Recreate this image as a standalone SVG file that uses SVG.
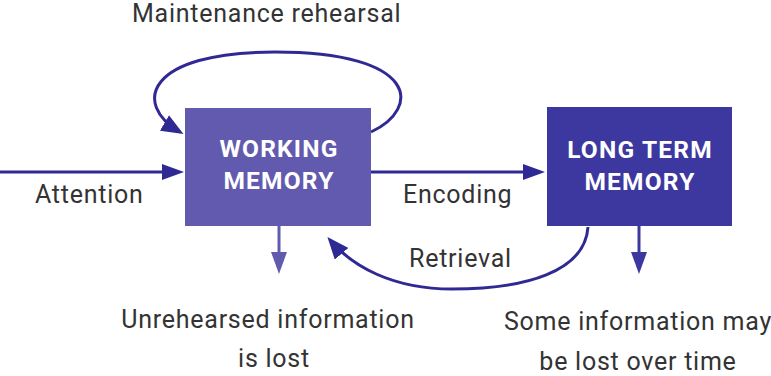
<svg xmlns="http://www.w3.org/2000/svg" width="771" height="376" viewBox="0 0 771 376">
<style>
.lbl{font-family:Roboto,"Liberation Sans",sans-serif;font-size:25px;letter-spacing:0.75px;fill:#333}
.box{font-family:Roboto,"Liberation Sans",sans-serif;font-size:24.5px;font-weight:bold;letter-spacing:1.2px;fill:#fff;text-anchor:middle}
.ln{fill:none;stroke:#2f2a93;stroke-width:3}
</style>
<defs>
<marker id="ah" viewBox="0 0 22 16" refX="2" refY="8" markerWidth="22" markerHeight="16" markerUnits="userSpaceOnUse" orient="auto"><path d="M0,0 L22,8 L0,16 z" fill="#2f2a93"/></marker>
<marker id="ahc" viewBox="0 0 22 18" refX="18" refY="9" markerWidth="22" markerHeight="18" markerUnits="userSpaceOnUse" orient="auto"><path d="M0,0 L22,9 L0,18 z" fill="#2f2a93"/></marker>
<marker id="ahl" viewBox="0 0 22 16" refX="2" refY="8" markerWidth="22" markerHeight="16" markerUnits="userSpaceOnUse" orient="auto"><path d="M0,0 L22,8 L0,16 z" fill="#625aae"/></marker>
<marker id="ahd" viewBox="0 0 22 16" refX="2" refY="8" markerWidth="22" markerHeight="16" markerUnits="userSpaceOnUse" orient="auto"><path d="M0,0 L22,8 L0,16 z" fill="#3c38a0"/></marker>
</defs>
<g id="connectors">
<path class="ln" d="M0,172 L164,172" marker-end="url(#ah)"/>
<path class="ln" d="M371,172 L525,172" marker-end="url(#ah)"/>
<path class="ln" d="M371,132 C422,108 418,52 275,52 C146,52 132,104 180,132" marker-end="url(#ahc)"/>
<path class="ln" d="M588,227 C585,272 525,289 452,289 C392,289 352,266 330,240" marker-end="url(#ahc)"/>
<path d="M279,226 L279,254" fill="none" stroke="#625aae" stroke-width="3" marker-end="url(#ahl)"/>
<path d="M639,226 L639,254" fill="none" stroke="#3c38a0" stroke-width="3" marker-end="url(#ahd)"/>
</g>
<g id="working-memory">
<rect x="185" y="108" width="186" height="118" fill="#625aae"/>
<text class="box" x="279" y="157">WORKING</text>
<text class="box" x="279" y="189">MEMORY</text>
</g>
<g id="long-term-memory">
<rect x="547" y="107" width="185" height="119" fill="#3c38a0"/>
<text class="box" x="640" y="158">LONG TERM</text>
<text class="box" x="640" y="190">MEMORY</text>
</g>
<g id="labels">
<text class="lbl" x="132" y="22">Maintenance rehearsal</text>
<text class="lbl" x="35" y="203">Attention</text>
<text class="lbl" x="403" y="203">Encoding</text>
<text class="lbl" x="409" y="267">Retrieval</text>
<text class="lbl" x="268" y="328" text-anchor="middle">Unrehearsed information</text>
<text class="lbl" x="274" y="367" text-anchor="middle">is lost</text>
<text class="lbl" x="638" y="330" text-anchor="middle">Some information may</text>
<text class="lbl" x="638" y="370" text-anchor="middle">be lost over time</text>
</g>
</svg>
